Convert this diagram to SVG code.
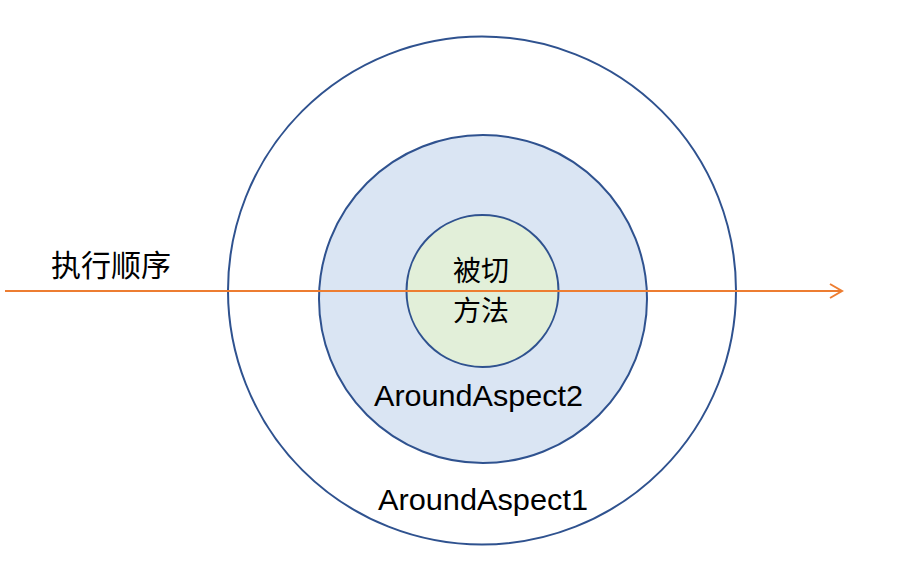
<svg xmlns="http://www.w3.org/2000/svg" width="914" height="572" viewBox="0 0 914 572">
<defs>
<style>
.ring{stroke:#2F528F;stroke-width:2}
.lbl{font-family:"Liberation Sans","Noto Sans CJK SC",sans-serif;font-size:30px;fill:#000}
.cjk{font-family:"Noto Sans CJK SC","Liberation Sans",sans-serif;font-size:30px;fill:#000}
.tgt{font-family:"Noto Sans CJK SC","Liberation Sans",sans-serif;font-size:28px;fill:#000}
</style>
<marker id="arr" markerWidth="16" markerHeight="16" refX="14" refY="8" orient="auto" markerUnits="userSpaceOnUse">
<path d="M2,1 L14,8 L2,15" fill="none" stroke="#ED7D31" stroke-width="2"/>
</marker>
</defs>
<rect width="914" height="572" fill="#fff"/>
<g id="aspect1">
<circle class="ring" cx="482" cy="290.5" r="254" fill="#fff"/>
<text class="lbl" x="378" y="510" textLength="210" lengthAdjust="spacingAndGlyphs">AroundAspect1</text>
</g>
<g id="aspect2">
<circle class="ring" cx="483" cy="299" r="164" fill="#DAE5F3"/>
<text class="lbl" x="374" y="406" textLength="209" lengthAdjust="spacingAndGlyphs">AroundAspect2</text>
</g>
<g id="target">
<circle class="ring" cx="482.5" cy="291" r="76" fill="#E2EFD9"/>
<text class="tgt" x="481" y="281" text-anchor="middle">被切</text>
<text class="tgt" x="481" y="321" text-anchor="middle">方法</text>
</g>
<g id="order">
<text class="cjk" x="51" y="276">执行顺序</text>
</g>
<g id="connectors">
<line x1="5" y1="291" x2="842" y2="291" stroke="#ED7D31" stroke-width="2" marker-end="url(#arr)"/>
</g>
</svg>
